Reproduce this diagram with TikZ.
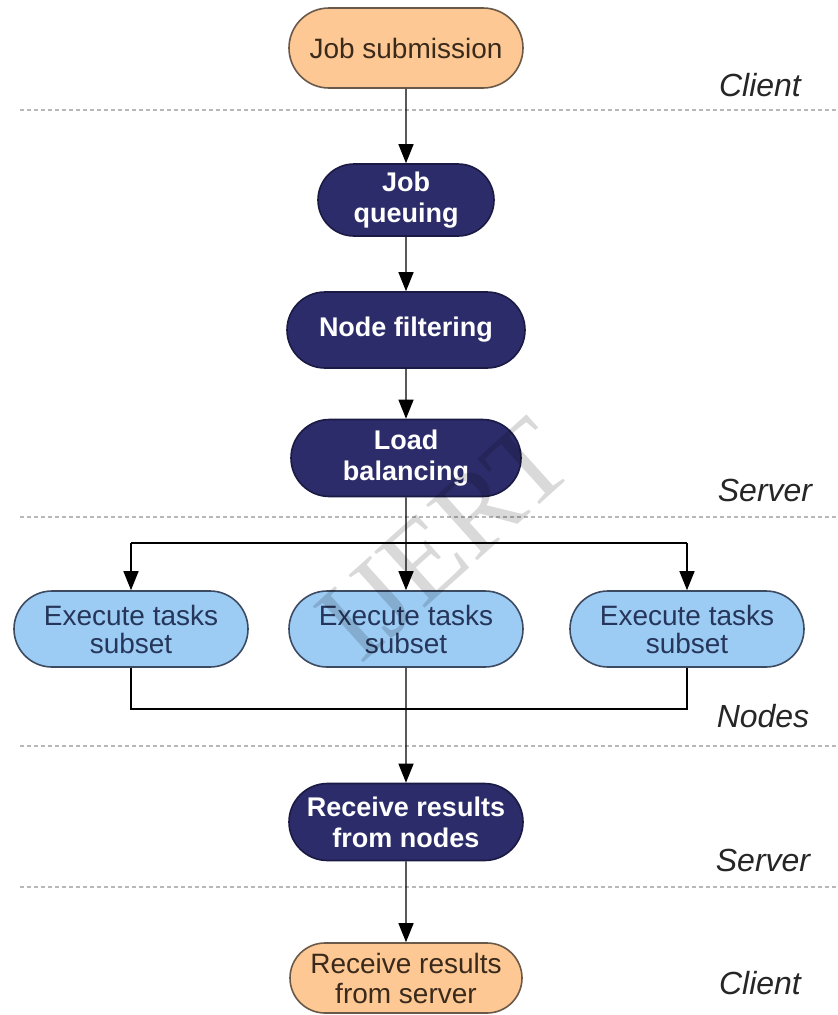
\documentclass[tikz,border=0pt]{standalone}
\usepackage{fontspec}
\setmainfont{Liberation Sans}
\newfontfamily\wmfont{Liberation Serif}
\usetikzlibrary{shapes.misc,arrows.meta}
\definecolor{peach}{HTML}{FDC893}
\definecolor{peachline}{HTML}{6A5848}
\definecolor{peachtext}{HTML}{3A2A1C}
\definecolor{navy}{HTML}{2C2C6A}
\definecolor{navyline}{HTML}{1A1A44}
\definecolor{sky}{HTML}{9CCBF4}
\definecolor{skyline}{HTML}{3C4A62}
\definecolor{skytext}{HTML}{26365A}
\definecolor{sepgray}{HTML}{B8B8B8}
\begin{document}
\begin{tikzpicture}[x=1pt,y=-1pt,
  clientbox/.style={rounded rectangle, draw=peachline, line width=1.6pt, fill=peach,
    text=peachtext, align=center, font=\fontsize{28}{30}\selectfont, inner sep=2pt},
  serverbox/.style={rounded rectangle, draw=navyline, line width=1.6pt, fill=navy,
    text=white, align=center, font=\fontsize{27}{31}\selectfont\bfseries, inner sep=2pt},
  nodebox/.style={rounded rectangle, draw=skyline, line width=1.6pt, fill=sky,
    text=skytext, align=center, font=\fontsize{28}{28}\selectfont, inner sep=2pt},
  flow/.style={line width=1.3pt, black},
  arr/.style={flow, -{Triangle[length=19pt,width=15pt]}},
  sep/.style={sepgray, line width=1.2pt, dash pattern=on 4pt off 3pt},
  zone/.style={font=\fontsize{32}{34}\selectfont\itshape, text=black!85}
]
\useasboundingbox (0,0) rectangle (838,1015);
\fill[white] (0,0) rectangle (838,1015);

% separators
\draw[sep] (20,110) -- (838,110);
\draw[sep] (20,517) -- (838,517);
\draw[sep] (20,746) -- (838,746);
\draw[sep] (20,887) -- (838,887);

% zone labels
\node[zone] (z1) at (760,85) {Client};
\node[zone] (z2) at (765,490) {Server};
\node[zone] (z3) at (763,716) {Nodes};
\node[zone] (z4) at (763,860) {Server};
\node[zone] (z5) at (760,983) {Client};

% nodes
\node[clientbox, minimum width=238pt, minimum height=80pt] (sub) at (406,48) {Job submission};
\node[serverbox, minimum width=180pt, minimum height=72pt] (que) at (406,200) {Job\\queuing};
\node[serverbox, minimum width=242pt, minimum height=76pt] (fil) at (406,330) {Node filtering};
\node[serverbox, minimum width=234pt, minimum height=77pt] (lb) at (406,458) {Load\\balancing};
\node[nodebox, minimum width=238pt, minimum height=76pt] (e1) at (131,629) {Execute tasks\\subset};
\node[nodebox, minimum width=238pt, minimum height=76pt] (e2) at (406,629) {Execute tasks\\subset};
\node[nodebox, minimum width=238pt, minimum height=76pt] (e3) at (687,629) {Execute tasks\\subset};
\node[serverbox, minimum width=238pt, minimum height=77pt] (rn) at (406,822) {Receive results\\from nodes};
\node[clientbox, minimum width=236pt, minimum height=70pt] (rs) at (406,978) {Receive results\\from server};

\coordinate (splitL) at (131,543);
\coordinate (splitR) at (687,543);
\coordinate (joinL) at (131,709);
\coordinate (joinR) at (687,709);

% connectors
\draw[arr] (sub) -- (que);
\draw[arr] (que) -- (fil);
\draw[arr] (fil) -- (lb);
\draw[arr] (lb) -- (e2);
\draw[flow] (splitL) -- (splitR);
\draw[arr] (splitL) -- (e1);
\draw[arr] (splitR) -- (e3);
\draw[flow] (e1) -- (joinL) -- (joinR) -- (e3);
\draw[arr] (e2) -- (rn);
\draw[arr] (rn) -- (rs);

% watermark
\node[rotate=42, text=black, opacity=0.15, font=\wmfont\fontsize{115}{115}\selectfont] (wm) at (445,540) {IJERT};
\end{tikzpicture}
\end{document}
